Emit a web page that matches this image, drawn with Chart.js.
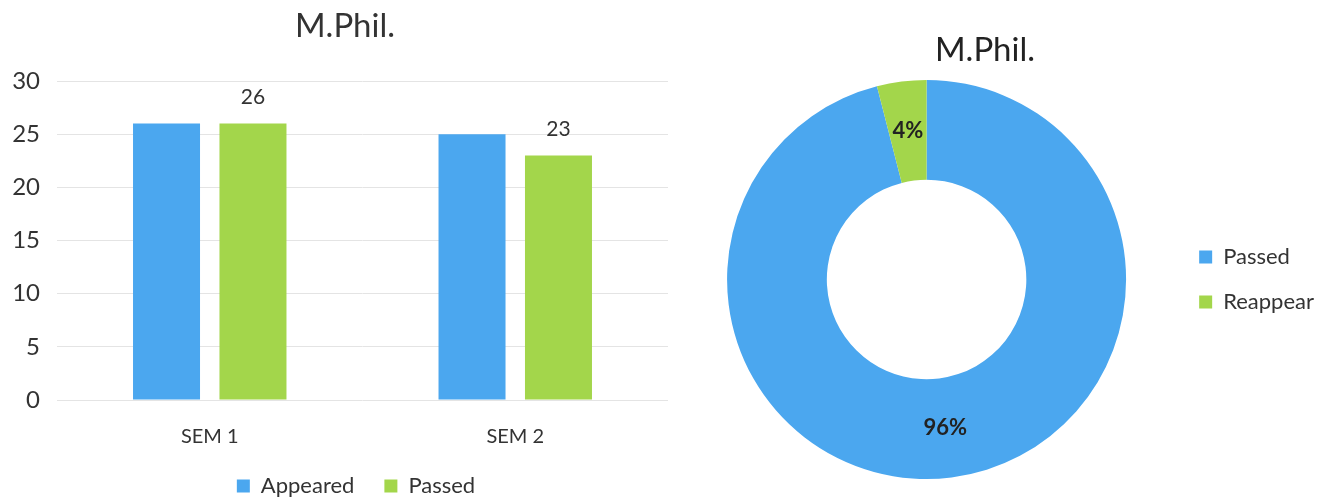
<!DOCTYPE html>
<html><head><meta charset="utf-8">
<script src="https://cdn.jsdelivr.net/npm/chart.js@4"></script>
<style>
html,body{margin:0;padding:0;background:#fff;width:1329px;height:502px;overflow:hidden}
#c1wrap{position:absolute;left:0;top:0;width:690px;height:502px}
#c2wrap{position:absolute;left:645px;top:0;width:684px;height:502px}
</style></head><body>
<div id="c1wrap"><canvas id="bar"></canvas></div>
<div id="c2wrap"><canvas id="pie"></canvas></div>
<script>
const semesters = ['SEM 1', 'SEM 2'];
const appeared = [26, 25];
const passed = [26, 23];
const yMax = 30;
const yStep = 5;
const pieLabels = ['Passed', 'Reappear'];
const pieValues = [96, 4];
const pieText = ['96%', '4%'];
const chartTitle = 'M.Phil.';

const BLUE = '#4BA7EF';
const GREEN = '#A3D64B';
const FONT = 'Lato, "Open Sans", sans-serif';
Chart.defaults.font.family = FONT;
Chart.defaults.color = '#333';

const posTitle = {
  id: 'posTitle',
  afterDraw(chart, args, opts) {
    const ctx = chart.ctx;
    ctx.save();
    ctx.font = opts.font;
    ctx.fillStyle = opts.color;
    ctx.textAlign = 'center';
    ctx.textBaseline = 'middle';
    ctx.fillText(opts.text, opts.x, opts.y);
    ctx.restore();
  }
};

const legendShift = {
  id: 'legendShift',
  afterLayout(chart, args, opts) {
    const l = chart.legend;
    if (!l) return;
    const dx = opts.dx || 0, dy = opts.dy || 0;
    l.left += dx; l.right += dx; l.top += dy; l.bottom += dy;
  }
};

const barLabels = {
  id: 'barLabels',
  afterDatasetsDraw(chart) {
    const ctx = chart.ctx;
    const meta = chart.getDatasetMeta(1);
    ctx.save();
    ctx.font = '21px ' + FONT;
    ctx.fillStyle = '#333';
    ctx.textAlign = 'center';
    ctx.textBaseline = 'middle';
    meta.data.forEach((el, i) => {
      ctx.fillText(String(chart.data.datasets[1].data[i]), el.x, el.y - 26);
    });
    ctx.restore();
  }
};

new Chart(document.getElementById('bar'), {
  type: 'bar',
  data: {
    labels: semesters,
    datasets: [
      { label: 'Appeared', data: appeared, backgroundColor: BLUE },
      { label: 'Passed', data: passed, backgroundColor: GREEN }
    ]
  },
  options: {
    responsive: true, maintainAspectRatio: false, animation: false,
    categoryPercentage: 0.566, barPercentage: 0.775,
    layout: { padding: { left: 0, right: 22, top: 81, bottom: -10 } },
    plugins: {
      title: { display: false },
      posTitle: { text: chartTitle, x: 345, y: 26, font: '33px ' + FONT, color: '#333' },
      legendShift: { dx: 22, dy: -5 },
      legend: { position: 'bottom', labels: { boxWidth: 13, boxHeight: 13, font: { size: 22 }, padding: 30, color: '#333' } },
      tooltip: { enabled: false }
    },
    scales: {
      x: { grid: { display: false, drawTicks: false }, border: { display: false },
           ticks: { font: { size: 20 }, color: '#333', padding: 25 },
           afterFit(scale) { scale.height = 50; } },
      y: { min: 0, max: yMax, ticks: { stepSize: yStep, font: { size: 24 }, color: '#333', padding: 17 },
           grid: { color: '#e4e4e4', drawTicks: false }, border: { display: false },
           afterFit(scale) { scale.width = 57; } }
    }
  },
  plugins: [barLabels, posTitle, legendShift]
});

const pieLabelPlugin = {
  id: 'pieLabels',
  afterDatasetsDraw(chart) {
    const ctx = chart.ctx;
    const meta = chart.getDatasetMeta(0);
    ctx.save();
    ctx.font = 'bold 22px ' + FONT;
    ctx.fillStyle = '#222';
    ctx.textAlign = 'center';
    ctx.textBaseline = 'middle';
    meta.data.forEach((el, i) => {
      const p = el.tooltipPosition();
      ctx.fillText(pieText[i], p.x, p.y);
    });
    ctx.restore();
  }
};

new Chart(document.getElementById('pie'), {
  type: 'doughnut',
  data: {
    labels: pieLabels,
    datasets: [{ data: pieValues, backgroundColor: [BLUE, GREEN], borderWidth: 0 }]
  },
  options: {
    responsive: true, maintainAspectRatio: false, animation: false,
    cutout: '50%',
    layout: { padding: { left: 32, right: 5, top: 80, bottom: 23 } },
    plugins: {
      title: { display: false },
      posTitle: { text: chartTitle, x: 340, y: 50, font: '33px ' + FONT, color: '#222' },
      legend: { position: 'right', fullSize: false, labels: { boxWidth: 13, boxHeight: 13, font: { size: 22 }, padding: 23, color: '#333' } },
      tooltip: { enabled: false }
    }
  },
  plugins: [pieLabelPlugin, posTitle]
});
</script>
</body></html>
